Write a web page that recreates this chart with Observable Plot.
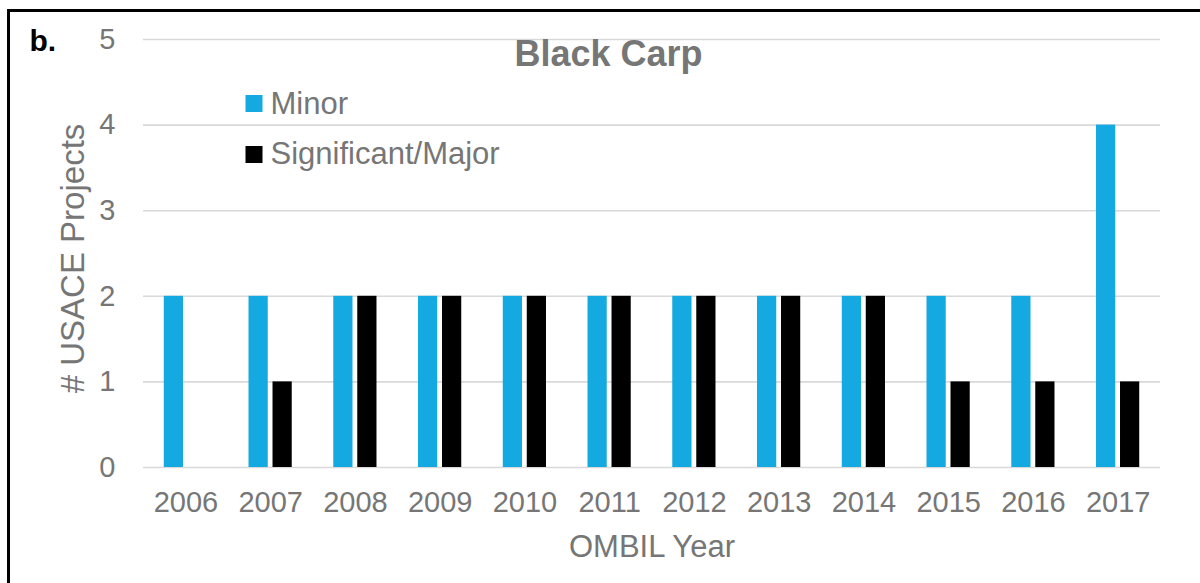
<!DOCTYPE html>
<html>
<head>
<meta charset="utf-8">
<script src="https://cdn.jsdelivr.net/npm/d3@7"></script>
<script src="https://cdn.jsdelivr.net/npm/@observablehq/plot@0.6"></script>
<style>
  html, body { margin: 0; padding: 0; background: #fff; overflow: hidden; }
  #wrap { position: relative; width: 1200px; height: 583px; }
  #frame { position: absolute; left: 7px; top: 9px; width: 1300px; height: 700px;
           border-top: 3px solid #000; border-left: 3px solid #000; box-sizing: border-box; pointer-events: none; }
  svg { font-family: "Liberation Sans", Arial, sans-serif; }
</style>
</head>
<body>
<div id="wrap"><div id="frame"></div></div>
<script>
const years = ["2006","2007","2008","2009","2010","2011","2012","2013","2014","2015","2016","2017"];
const minorValues = [2, 2, 2, 2, 2, 2, 2, 2, 2, 2, 2, 4];
const majorValues = [0, 1, 2, 2, 2, 2, 2, 2, 2, 1, 1, 1];
const yTicks = [0, 1, 2, 3, 4, 5];
const seriesNames = ["Minor", "Significant/Major"];
const seriesColors = ["#14a9e0", "#000000"];
const titleText = "Black Carp";
const panelLabel = "b.";
const xLabel = "OMBIL Year";
const yLabel = "# USACE Projects";

const minorData = years.map((y, i) => ({year: y, value: minorValues[i]}));
const majorData = years.map((y, i) => ({year: y, value: majorValues[i]}));

const gray = "#767676";
const font = "Liberation Sans, Arial, sans-serif";

const chart = Plot.plot({
  width: 1200,
  height: 583,
  marginLeft: 143,
  marginRight: 40,
  marginTop: 39,
  marginBottom: 116,
  style: {fontFamily: font, background: "transparent", overflow: "visible"},
  x: {type: "band", domain: years, paddingInner: 0.49, paddingOuter: 0.245, align: 0.5, round: false, label: null},
  y: {domain: [0, 5], label: null},
  marks: [
    Plot.ruleY(yTicks, {stroke: "#d9d9d9", strokeWidth: 1.6}),
    Plot.barY(minorData, {x: "year", y: "value", fill: seriesColors[0], insetRight: 24, insetLeft: 0}),
    Plot.barY(majorData, {x: "year", y: "value", fill: seriesColors[1], insetLeft: 24, insetRight: 0}),
    Plot.axisY({ticks: yTicks, tickSize: 0, tickPadding: 28, fontSize: 29, color: gray, label: null, tickFormat: d => String(d)}),
    Plot.axisX({tickSize: 0, tickPadding: 24, fontSize: 29, color: gray, label: null}),
    // panel label
    Plot.text([panelLabel], {frameAnchor: "top-left", dx: -114, dy: 11, text: d => d, textAnchor: "start", lineAnchor: "bottom", fontSize: 30, fontWeight: "bold", fill: "#000"}),
    // title
    Plot.text([titleText], {frameAnchor: "top-left", dx: 465, dy: 26, text: d => d, textAnchor: "middle", lineAnchor: "bottom", fontSize: 36, fontWeight: "bold", fill: gray}),
    // legend swatches
    Plot.dot([0], {frameAnchor: "top-left", dx: 110.5, dy: 64, symbol: "square", r: 9.6, fill: seriesColors[0], stroke: "none"}),
    Plot.dot([1], {frameAnchor: "top-left", dx: 110.5, dy: 115, symbol: "square", r: 9.6, fill: seriesColors[1], stroke: "none"}),
    Plot.text([seriesNames[0]], {frameAnchor: "top-left", dx: 127, dy: 74, text: d => d, textAnchor: "start", lineAnchor: "bottom", fontSize: 31, fill: gray}),
    Plot.text([seriesNames[1]], {frameAnchor: "top-left", dx: 127, dy: 124, text: d => d, textAnchor: "start", lineAnchor: "bottom", fontSize: 31, fill: gray}),
    // axis titles
    Plot.text([xLabel], {frameAnchor: "bottom", dx: 0, dy: 89, text: d => d, textAnchor: "middle", lineAnchor: "bottom", fontSize: 31, fill: gray}),
    Plot.text([yLabel], {frameAnchor: "left", dx: -60, dy: 5, text: d => d, rotate: -90, textAnchor: "middle", lineAnchor: "bottom", fontSize: 33, fill: gray})
  ]
});
chart.style.position = "absolute";
chart.style.left = "0px";
chart.style.top = "0px";
document.getElementById("wrap").insertBefore(chart, document.getElementById("frame"));
</script>
</body>
</html>
